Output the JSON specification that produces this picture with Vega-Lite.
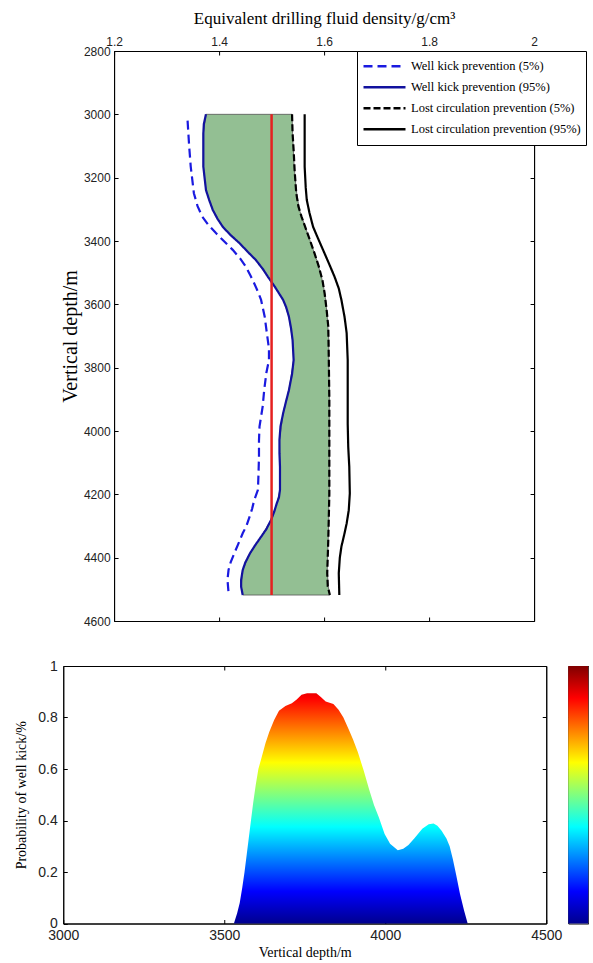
{
  "$schema": "https://vega.github.io/schema/vega-lite/v6.json",
  "padding": {"left": 14, "top": 8, "right": 0, "bottom": 0},
  "background": "white",
  "center": true,
  "spacing": 30,
  "datasets": {
    "band": [
      {"depth": 3000, "lo": 1.375, "hi": 1.539},
      {"depth": 3060, "lo": 1.370, "hi": 1.540},
      {"depth": 3165, "lo": 1.370, "hi": 1.543},
      {"depth": 3239, "lo": 1.375, "hi": 1.547},
      {"depth": 3302, "lo": 1.388, "hi": 1.553},
      {"depth": 3355, "lo": 1.407, "hi": 1.564},
      {"depth": 3407, "lo": 1.439, "hi": 1.575},
      {"depth": 3460, "lo": 1.470, "hi": 1.586},
      {"depth": 3513, "lo": 1.493, "hi": 1.595},
      {"depth": 3544, "lo": 1.506, "hi": 1.599},
      {"depth": 3586, "lo": 1.522, "hi": 1.603},
      {"depth": 3639, "lo": 1.533, "hi": 1.606},
      {"depth": 3713, "lo": 1.540, "hi": 1.609},
      {"depth": 3776, "lo": 1.542, "hi": 1.609},
      {"depth": 3871, "lo": 1.533, "hi": 1.610},
      {"depth": 3944, "lo": 1.522, "hi": 1.610},
      {"depth": 4028, "lo": 1.515, "hi": 1.610},
      {"depth": 4113, "lo": 1.516, "hi": 1.610},
      {"depth": 4186, "lo": 1.516, "hi": 1.610},
      {"depth": 4228, "lo": 1.510, "hi": 1.609},
      {"depth": 4281, "lo": 1.499, "hi": 1.609},
      {"depth": 4334, "lo": 1.480, "hi": 1.608},
      {"depth": 4386, "lo": 1.459, "hi": 1.607},
      {"depth": 4439, "lo": 1.445, "hi": 1.606},
      {"depth": 4492, "lo": 1.442, "hi": 1.608},
      {"depth": 4518, "lo": 1.445, "hi": 1.611}
    ],
    "redline": [{"dens": 1.5, "d1": 3000, "d2": 4518}],
    "curves": [
      {"series": "Well kick prevention (5%)", "depth": 3020, "dens": 1.340},
      {"series": "Well kick prevention (5%)", "depth": 3100, "dens": 1.343},
      {"series": "Well kick prevention (5%)", "depth": 3165, "dens": 1.346},
      {"series": "Well kick prevention (5%)", "depth": 3249, "dens": 1.352},
      {"series": "Well kick prevention (5%)", "depth": 3290, "dens": 1.359},
      {"series": "Well kick prevention (5%)", "depth": 3323, "dens": 1.368},
      {"series": "Well kick prevention (5%)", "depth": 3350, "dens": 1.380},
      {"series": "Well kick prevention (5%)", "depth": 3375, "dens": 1.394},
      {"series": "Well kick prevention (5%)", "depth": 3400, "dens": 1.409},
      {"series": "Well kick prevention (5%)", "depth": 3428, "dens": 1.426},
      {"series": "Well kick prevention (5%)", "depth": 3455, "dens": 1.440},
      {"series": "Well kick prevention (5%)", "depth": 3481, "dens": 1.451},
      {"series": "Well kick prevention (5%)", "depth": 3510, "dens": 1.460},
      {"series": "Well kick prevention (5%)", "depth": 3534, "dens": 1.467},
      {"series": "Well kick prevention (5%)", "depth": 3560, "dens": 1.474},
      {"series": "Well kick prevention (5%)", "depth": 3586, "dens": 1.480},
      {"series": "Well kick prevention (5%)", "depth": 3640, "dens": 1.487},
      {"series": "Well kick prevention (5%)", "depth": 3691, "dens": 1.491},
      {"series": "Well kick prevention (5%)", "depth": 3740, "dens": 1.495},
      {"series": "Well kick prevention (5%)", "depth": 3776, "dens": 1.495},
      {"series": "Well kick prevention (5%)", "depth": 3817, "dens": 1.490},
      {"series": "Well kick prevention (5%)", "depth": 3870, "dens": 1.486},
      {"series": "Well kick prevention (5%)", "depth": 3923, "dens": 1.483},
      {"series": "Well kick prevention (5%)", "depth": 3986, "dens": 1.477},
      {"series": "Well kick prevention (5%)", "depth": 4030, "dens": 1.476},
      {"series": "Well kick prevention (5%)", "depth": 4081, "dens": 1.476},
      {"series": "Well kick prevention (5%)", "depth": 4140, "dens": 1.475},
      {"series": "Well kick prevention (5%)", "depth": 4186, "dens": 1.474},
      {"series": "Well kick prevention (5%)", "depth": 4218, "dens": 1.467},
      {"series": "Well kick prevention (5%)", "depth": 4245, "dens": 1.463},
      {"series": "Well kick prevention (5%)", "depth": 4271, "dens": 1.458},
      {"series": "Well kick prevention (5%)", "depth": 4300, "dens": 1.452},
      {"series": "Well kick prevention (5%)", "depth": 4323, "dens": 1.445},
      {"series": "Well kick prevention (5%)", "depth": 4355, "dens": 1.437},
      {"series": "Well kick prevention (5%)", "depth": 4386, "dens": 1.429},
      {"series": "Well kick prevention (5%)", "depth": 4415, "dens": 1.422},
      {"series": "Well kick prevention (5%)", "depth": 4439, "dens": 1.418},
      {"series": "Well kick prevention (5%)", "depth": 4470, "dens": 1.416},
      {"series": "Well kick prevention (5%)", "depth": 4510, "dens": 1.418},
      {"series": "Well kick prevention (95%)", "depth": 3000, "dens": 1.375},
      {"series": "Well kick prevention (95%)", "depth": 3030, "dens": 1.371},
      {"series": "Well kick prevention (95%)", "depth": 3060, "dens": 1.370},
      {"series": "Well kick prevention (95%)", "depth": 3165, "dens": 1.370},
      {"series": "Well kick prevention (95%)", "depth": 3239, "dens": 1.375},
      {"series": "Well kick prevention (95%)", "depth": 3270, "dens": 1.381},
      {"series": "Well kick prevention (95%)", "depth": 3302, "dens": 1.388},
      {"series": "Well kick prevention (95%)", "depth": 3330, "dens": 1.397},
      {"series": "Well kick prevention (95%)", "depth": 3355, "dens": 1.407},
      {"series": "Well kick prevention (95%)", "depth": 3380, "dens": 1.421},
      {"series": "Well kick prevention (95%)", "depth": 3407, "dens": 1.439},
      {"series": "Well kick prevention (95%)", "depth": 3435, "dens": 1.455},
      {"series": "Well kick prevention (95%)", "depth": 3460, "dens": 1.470},
      {"series": "Well kick prevention (95%)", "depth": 3490, "dens": 1.484},
      {"series": "Well kick prevention (95%)", "depth": 3513, "dens": 1.493},
      {"series": "Well kick prevention (95%)", "depth": 3544, "dens": 1.506},
      {"series": "Well kick prevention (95%)", "depth": 3565, "dens": 1.514},
      {"series": "Well kick prevention (95%)", "depth": 3586, "dens": 1.522},
      {"series": "Well kick prevention (95%)", "depth": 3610, "dens": 1.528},
      {"series": "Well kick prevention (95%)", "depth": 3639, "dens": 1.533},
      {"series": "Well kick prevention (95%)", "depth": 3675, "dens": 1.537},
      {"series": "Well kick prevention (95%)", "depth": 3713, "dens": 1.540},
      {"series": "Well kick prevention (95%)", "depth": 3776, "dens": 1.542},
      {"series": "Well kick prevention (95%)", "depth": 3820, "dens": 1.539},
      {"series": "Well kick prevention (95%)", "depth": 3871, "dens": 1.533},
      {"series": "Well kick prevention (95%)", "depth": 3910, "dens": 1.527},
      {"series": "Well kick prevention (95%)", "depth": 3944, "dens": 1.522},
      {"series": "Well kick prevention (95%)", "depth": 3985, "dens": 1.517},
      {"series": "Well kick prevention (95%)", "depth": 4028, "dens": 1.515},
      {"series": "Well kick prevention (95%)", "depth": 4070, "dens": 1.515},
      {"series": "Well kick prevention (95%)", "depth": 4113, "dens": 1.516},
      {"series": "Well kick prevention (95%)", "depth": 4186, "dens": 1.516},
      {"series": "Well kick prevention (95%)", "depth": 4210, "dens": 1.514},
      {"series": "Well kick prevention (95%)", "depth": 4228, "dens": 1.510},
      {"series": "Well kick prevention (95%)", "depth": 4255, "dens": 1.505},
      {"series": "Well kick prevention (95%)", "depth": 4281, "dens": 1.499},
      {"series": "Well kick prevention (95%)", "depth": 4310, "dens": 1.490},
      {"series": "Well kick prevention (95%)", "depth": 4334, "dens": 1.480},
      {"series": "Well kick prevention (95%)", "depth": 4360, "dens": 1.469},
      {"series": "Well kick prevention (95%)", "depth": 4386, "dens": 1.459},
      {"series": "Well kick prevention (95%)", "depth": 4415, "dens": 1.450},
      {"series": "Well kick prevention (95%)", "depth": 4439, "dens": 1.445},
      {"series": "Well kick prevention (95%)", "depth": 4470, "dens": 1.442},
      {"series": "Well kick prevention (95%)", "depth": 4492, "dens": 1.442},
      {"series": "Well kick prevention (95%)", "depth": 4518, "dens": 1.445},
      {"series": "Lost circulation prevention (5%)", "depth": 3000, "dens": 1.539},
      {"series": "Lost circulation prevention (5%)", "depth": 3060, "dens": 1.540},
      {"series": "Lost circulation prevention (5%)", "depth": 3113, "dens": 1.542},
      {"series": "Lost circulation prevention (5%)", "depth": 3180, "dens": 1.544},
      {"series": "Lost circulation prevention (5%)", "depth": 3249, "dens": 1.547},
      {"series": "Lost circulation prevention (5%)", "depth": 3290, "dens": 1.551},
      {"series": "Lost circulation prevention (5%)", "depth": 3323, "dens": 1.557},
      {"series": "Lost circulation prevention (5%)", "depth": 3360, "dens": 1.565},
      {"series": "Lost circulation prevention (5%)", "depth": 3397, "dens": 1.573},
      {"series": "Lost circulation prevention (5%)", "depth": 3440, "dens": 1.582},
      {"series": "Lost circulation prevention (5%)", "depth": 3481, "dens": 1.590},
      {"series": "Lost circulation prevention (5%)", "depth": 3525, "dens": 1.597},
      {"series": "Lost circulation prevention (5%)", "depth": 3565, "dens": 1.601},
      {"series": "Lost circulation prevention (5%)", "depth": 3620, "dens": 1.605},
      {"series": "Lost circulation prevention (5%)", "depth": 3670, "dens": 1.608},
      {"series": "Lost circulation prevention (5%)", "depth": 3776, "dens": 1.609},
      {"series": "Lost circulation prevention (5%)", "depth": 3900, "dens": 1.610},
      {"series": "Lost circulation prevention (5%)", "depth": 4050, "dens": 1.610},
      {"series": "Lost circulation prevention (5%)", "depth": 4200, "dens": 1.610},
      {"series": "Lost circulation prevention (5%)", "depth": 4345, "dens": 1.608},
      {"series": "Lost circulation prevention (5%)", "depth": 4449, "dens": 1.606},
      {"series": "Lost circulation prevention (5%)", "depth": 4490, "dens": 1.607},
      {"series": "Lost circulation prevention (5%)", "depth": 4518, "dens": 1.611},
      {"series": "Lost circulation prevention (95%)", "depth": 3000, "dens": 1.563},
      {"series": "Lost circulation prevention (95%)", "depth": 3165, "dens": 1.563},
      {"series": "Lost circulation prevention (95%)", "depth": 3230, "dens": 1.565},
      {"series": "Lost circulation prevention (95%)", "depth": 3270, "dens": 1.567},
      {"series": "Lost circulation prevention (95%)", "depth": 3310, "dens": 1.572},
      {"series": "Lost circulation prevention (95%)", "depth": 3355, "dens": 1.579},
      {"series": "Lost circulation prevention (95%)", "depth": 3390, "dens": 1.588},
      {"series": "Lost circulation prevention (95%)", "depth": 3428, "dens": 1.598},
      {"series": "Lost circulation prevention (95%)", "depth": 3470, "dens": 1.609},
      {"series": "Lost circulation prevention (95%)", "depth": 3513, "dens": 1.620},
      {"series": "Lost circulation prevention (95%)", "depth": 3550, "dens": 1.628},
      {"series": "Lost circulation prevention (95%)", "depth": 3586, "dens": 1.633},
      {"series": "Lost circulation prevention (95%)", "depth": 3640, "dens": 1.639},
      {"series": "Lost circulation prevention (95%)", "depth": 3691, "dens": 1.643},
      {"series": "Lost circulation prevention (95%)", "depth": 3776, "dens": 1.645},
      {"series": "Lost circulation prevention (95%)", "depth": 3900, "dens": 1.645},
      {"series": "Lost circulation prevention (95%)", "depth": 3976, "dens": 1.645},
      {"series": "Lost circulation prevention (95%)", "depth": 4050, "dens": 1.646},
      {"series": "Lost circulation prevention (95%)", "depth": 4113, "dens": 1.648},
      {"series": "Lost circulation prevention (95%)", "depth": 4197, "dens": 1.649},
      {"series": "Lost circulation prevention (95%)", "depth": 4250, "dens": 1.647},
      {"series": "Lost circulation prevention (95%)", "depth": 4292, "dens": 1.643},
      {"series": "Lost circulation prevention (95%)", "depth": 4330, "dens": 1.638},
      {"series": "Lost circulation prevention (95%)", "depth": 4365, "dens": 1.633},
      {"series": "Lost circulation prevention (95%)", "depth": 4400, "dens": 1.630},
      {"series": "Lost circulation prevention (95%)", "depth": 4449, "dens": 1.628},
      {"series": "Lost circulation prevention (95%)", "depth": 4518, "dens": 1.629}
    ],
    "prob": [
      {"depth": 3530, "p": 0},
      {"depth": 3540, "p": 0.04},
      {"depth": 3548, "p": 0.08},
      {"depth": 3556, "p": 0.14},
      {"depth": 3563, "p": 0.20},
      {"depth": 3570, "p": 0.27},
      {"depth": 3576, "p": 0.33},
      {"depth": 3583, "p": 0.40},
      {"depth": 3590, "p": 0.47},
      {"depth": 3598, "p": 0.54},
      {"depth": 3606, "p": 0.60},
      {"depth": 3616, "p": 0.645},
      {"depth": 3628, "p": 0.70},
      {"depth": 3640, "p": 0.745},
      {"depth": 3655, "p": 0.79},
      {"depth": 3670, "p": 0.826},
      {"depth": 3690, "p": 0.845},
      {"depth": 3710, "p": 0.855},
      {"depth": 3725, "p": 0.87},
      {"depth": 3740, "p": 0.888},
      {"depth": 3757, "p": 0.894},
      {"depth": 3786, "p": 0.894},
      {"depth": 3800, "p": 0.88},
      {"depth": 3815, "p": 0.862},
      {"depth": 3839, "p": 0.852},
      {"depth": 3855, "p": 0.83},
      {"depth": 3870, "p": 0.80},
      {"depth": 3886, "p": 0.755},
      {"depth": 3900, "p": 0.715},
      {"depth": 3915, "p": 0.665},
      {"depth": 3933, "p": 0.594},
      {"depth": 3950, "p": 0.52},
      {"depth": 3965, "p": 0.46},
      {"depth": 3980, "p": 0.413},
      {"depth": 3998, "p": 0.348},
      {"depth": 4015, "p": 0.31},
      {"depth": 4039, "p": 0.284},
      {"depth": 4056, "p": 0.29},
      {"depth": 4072, "p": 0.305},
      {"depth": 4090, "p": 0.33},
      {"depth": 4115, "p": 0.368},
      {"depth": 4135, "p": 0.385},
      {"depth": 4150, "p": 0.388},
      {"depth": 4162, "p": 0.38},
      {"depth": 4175, "p": 0.36},
      {"depth": 4190, "p": 0.33},
      {"depth": 4200, "p": 0.30},
      {"depth": 4210, "p": 0.25},
      {"depth": 4220, "p": 0.19},
      {"depth": 4232, "p": 0.116},
      {"depth": 4245, "p": 0.05},
      {"depth": 4256, "p": 0}
    ],
    "cbar": [{"c0": 0, "c1": 1, "v0": 0, "v1": 1}]
  },
  "vconcat": [
    {
      "width": 420,
      "height": 570,
      "layer": [
        {
          "data": {"name": "band"},
          "mark": {"type": "area", "orient": "horizontal", "color": "#93bf93", "stroke": "#555555", "strokeWidth": 0.8},
          "encoding": {
            "y": {"field": "depth", "type": "quantitative",
              "scale": {"domain": [2800, 4600], "reverse": true, "nice": false, "zero": false},
              "axis": {"orient": "left", "values": [2800, 3000, 3200, 3400, 3600, 3800, 4000, 4200, 4400, 4600], "format": "d",
                "labelFontSize": 12, "labelPadding": 8, "title": "Vertical depth/m", "titleFontSize": 20, "titlePadding": 3}},
            "x": {"field": "lo", "type": "quantitative",
              "scale": {"domain": [1.2, 2], "nice": false, "zero": false},
              "axis": {"orient": "top", "values": [1.2, 1.4, 1.6, 1.8, 2], "format": "~g",
                "labelFontSize": 12, "labelPadding": 7, "title": "Equivalent drilling fluid density/g/cm³", "titleFontSize": 17, "titlePadding": 8}},
            "x2": {"field": "hi"}
          }
        },
        {
          "data": {"name": "curves"},
          "mark": {"type": "line", "strokeWidth": 2.2},
          "encoding": {
            "y": {"field": "depth", "type": "quantitative",
              "axis": {"orient": "right", "values": [3000, 3200, 3400, 3600, 3800, 4000, 4200, 4400], "labels": false, "title": null}},
            "x": {"field": "dens", "type": "quantitative",
              "axis": {"orient": "bottom", "values": [1.4, 1.6, 1.8], "labels": false, "title": null}},
            "order": {"field": "depth"},
            "color": {"field": "series", "type": "nominal",
              "scale": {"domain": ["Well kick prevention (5%)", "Well kick prevention (95%)", "Lost circulation prevention (5%)", "Lost circulation prevention (95%)"],
                "range": ["#1a1ae0", "#12129e", "#000000", "#000000"]},
              "legend": {"orient": "none", "legendX": 294, "legendY": 0, "title": null, "symbolType": "stroke", "symbolSize": 1764, "symbolStrokeWidth": 2.5,
                "clipHeight": 20.5, "rowPadding": 0, "padding": 5, "labelOffset": 4, "labelFont": "Liberation Serif", "labelFontSize": 12.5,
                "labelColor": "black", "fillColor": "white", "strokeColor": "black", "labelLimit": 300}},
            "strokeDash": {"field": "series", "type": "nominal",
              "scale": {"domain": ["Well kick prevention (5%)", "Well kick prevention (95%)", "Lost circulation prevention (5%)", "Lost circulation prevention (95%)"],
                "range": [[9, 5], [1, 0], [7, 3], [1, 0]]},
              "legend": {"orient": "none", "legendX": 294, "legendY": 0, "title": null, "symbolType": "stroke", "symbolSize": 1764, "symbolStrokeWidth": 2.5,
                "clipHeight": 20.5, "rowPadding": 0, "padding": 5, "labelOffset": 4, "labelFont": "Liberation Serif", "labelFontSize": 12.5,
                "labelColor": "black", "fillColor": "white", "strokeColor": "black", "labelLimit": 300}}
          }
        },
        {
          "data": {"name": "redline"},
          "mark": {"type": "rule", "color": "#e52020", "strokeWidth": 2.5},
          "encoding": {
            "x": {"field": "dens", "type": "quantitative", "axis": null},
            "y": {"field": "d1", "type": "quantitative", "axis": null},
            "y2": {"field": "d2"}
          }
        }
      ],
      "resolve": {"axis": {"x": "independent", "y": "independent"}}
    },
    {
      "spacing": 4,
      "hconcat": [
        {
          "width": 483,
          "height": 257.5,
          "layer": [
            {
              "data": {"name": "prob"},
              "mark": {"type": "area",
                "color": {"gradient": "linear", "x1": 0, "y1": 1, "x2": 0, "y2": 0,
                  "stops": [
                    {"offset": 0, "color": "#00008f"},
                    {"offset": 0.14, "color": "#0000ff"},
                    {"offset": 0.4195, "color": "#00ffff"},
                    {"offset": 0.699, "color": "#ffff00"},
                    {"offset": 0.9787, "color": "#ff0000"},
                    {"offset": 1, "color": "#ec0000"}
                  ]}},
              "encoding": {
                "x": {"field": "depth", "type": "quantitative",
                  "scale": {"domain": [3000, 4500], "nice": false, "zero": false},
                  "axis": {"orient": "bottom", "values": [3000, 3500, 4000, 4500], "format": "d", "labelFontSize": 14, "labelPadding": 9,
                    "title": "Vertical depth/m", "titleFontSize": 14, "titlePadding": 3}},
                "y": {"field": "p", "type": "quantitative",
                  "scale": {"domain": [0, 1], "nice": false},
                  "axis": {"orient": "left", "values": [0, 0.2, 0.4, 0.6, 0.8, 1], "format": "~g", "labelFontSize": 14, "labelPadding": 10,
                    "title": "Probability of well kick/%", "titleFontSize": 14, "titlePadding": 9}}
              }
            },
            {
              "data": {"values": []},
              "mark": "point",
              "encoding": {
                "x": {"field": "depth", "type": "quantitative",
                  "axis": {"orient": "top", "values": [3500, 4000], "labels": false, "title": null}},
                "y": {"field": "p", "type": "quantitative",
                  "axis": {"orient": "right", "values": [0.2, 0.4, 0.6, 0.8], "labels": false, "title": null}}
              }
            }
          ],
          "resolve": {"axis": {"x": "independent", "y": "independent"}}
        },
        {
          "width": 20,
          "height": 257.5,
          "data": {"name": "cbar"},
          "mark": {"type": "rect",
            "color": {"gradient": "linear", "x1": 0, "y1": 1, "x2": 0, "y2": 0,
              "stops": [
                {"offset": 0, "color": "#00008f"},
                {"offset": 0.125, "color": "#0000ff"},
                {"offset": 0.375, "color": "#00ffff"},
                {"offset": 0.625, "color": "#ffff00"},
                {"offset": 0.875, "color": "#ff0000"},
                {"offset": 1, "color": "#800000"}
              ]}},
          "encoding": {
            "x": {"field": "c0", "type": "quantitative", "scale": {"domain": [0, 1], "nice": false}, "axis": null},
            "x2": {"field": "c1"},
            "y": {"field": "v0", "type": "quantitative", "scale": {"domain": [0, 1], "nice": false},
              "axis": {"orient": "left", "values": [0.2, 0.4, 0.6, 0.8], "labels": false, "domain": false, "title": null, "tickSize": -3}},
            "y2": {"field": "v1"}
          }
        }
      ]
    }
  ],
  "config": {
    "view": {"stroke": "#000000", "strokeWidth": 1},
    "axis": {"grid": false, "domainColor": "#000000", "tickColor": "#000000", "labelColor": "#222222", "titleColor": "#000000",
      "titleFontWeight": "normal", "labelFont": "Liberation Sans", "titleFont": "Liberation Serif", "tickSize": -4, "labelFlush": false}
  }
}
